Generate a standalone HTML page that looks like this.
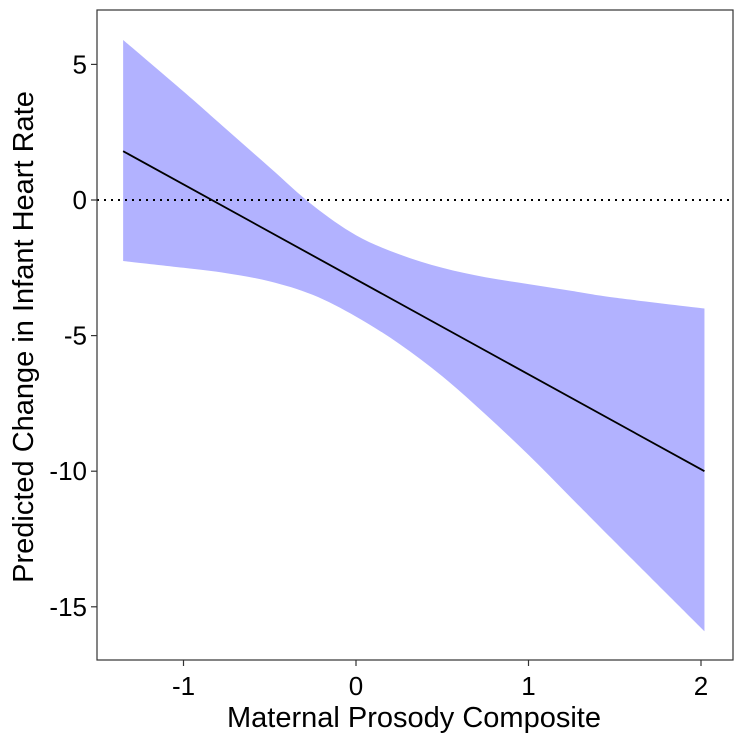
<!DOCTYPE html>
<html><head><meta charset="utf-8"><style>
html,body{margin:0;padding:0;background:#fff;}
svg{display:block;font-family:"Liberation Sans",Arial,sans-serif;}
</style></head><body>
<svg id="chart" width="744" height="744" viewBox="0 0 744 744">
<g id="plot"></g>
</svg>
<script>
const xCats = [-1.35, -1, -0.75, -0.5, -0.25, 0, 0.25, 0.5, 0.75, 1, 1.25, 1.5, 2.02];
const upperVals = [5.9, 4.0, 2.6, 1.2, -0.2, -1.3, -2.0, -2.5, -2.85, -3.1, -3.35, -3.6, -4.0];
const lowerVals = [-2.25, -2.5, -2.7, -3.0, -3.5, -4.3, -5.3, -6.5, -7.9, -9.4, -11.0, -12.6, -15.9];
const lineX = [-1.35, 2.02];
const lineY = [1.8, -10.0];
const xTicks = [-1, 0, 1, 2];
const yTicks = [5, 0, -5, -10, -15];
const refLine = [0];

const NS = "http://www.w3.org/2000/svg";
const g = document.getElementById('plot');
const px0 = 97, px1 = 733, py0 = 10, py1 = 660;
function xs(v){ return 356 + v * 172.5; }
function ys(v){ return 200 - v * 27.12; }
function mk(tag, attrs){ const e = document.createElementNS(NS, tag); for (const k in attrs) e.setAttribute(k, attrs[k]); g.appendChild(e); return e; }

function smoothPath(pts){
  let d = 'M' + pts[0][0] + ',' + pts[0][1];
  for (let i = 0; i < pts.length - 1; i++) {
    const p0 = pts[i-1] || pts[i], p1 = pts[i], p2 = pts[i+1], p3 = pts[i+2] || p2;
    const c1 = [p1[0] + (p2[0]-p0[0])/6, p1[1] + (p2[1]-p0[1])/6];
    const c2 = [p2[0] - (p3[0]-p1[0])/6, p2[1] - (p3[1]-p1[1])/6];
    d += ' C' + c1[0] + ',' + c1[1] + ' ' + c2[0] + ',' + c2[1] + ' ' + p2[0] + ',' + p2[1];
  }
  return d;
}
const up = xCats.map((x,i)=>[xs(x), ys(upperVals[i])]);
const lo = xCats.map((x,i)=>[xs(x), ys(lowerVals[i])]).reverse();
const loPath = smoothPath(lo);
let d = smoothPath(up) + ' L' + lo[0][0] + ',' + lo[0][1] + loPath.slice(loPath.indexOf(' C')) + ' Z';
const rib = mk('path', {d: d, fill: '#b2b2ff', stroke: 'none'});



refLine.forEach(v => {
  const l = mk('line', {x1: px0, x2: px1, y1: ys(v), y2: ys(v), stroke: '#000', 'stroke-width': 2, 'stroke-dasharray': '2,5'});
  
  
});

const ln = mk('line', {x1: xs(lineX[0]), y1: ys(lineY[0]), x2: xs(lineX[1]), y2: ys(lineY[1]), stroke: '#000', 'stroke-width': 1.8});



const fr = mk('rect', {x: px0, y: py0, width: px1-px0, height: py1-py0, fill: 'none', stroke: '#333', 'stroke-width': 1.2});



xTicks.forEach(v => {
  const t = mk('line', {x1: xs(v), x2: xs(v), y1: py1, y2: py1 + 6, stroke: '#333', 'stroke-width': 1.2});
  
  
  const tx = mk('text', {x: xs(v), y: py1 + 35, 'text-anchor': 'middle', 'font-size': 26, fill: '#000'});
  tx.textContent = v;
  
  
});
yTicks.forEach(v => {
  const t = mk('line', {x1: px0 - 6, x2: px0, y1: ys(v), y2: ys(v), stroke: '#333', 'stroke-width': 1.2});
  
  
  const tx = mk('text', {x: px0 - 10, y: ys(v) + 9, 'text-anchor': 'end', 'font-size': 26, fill: '#000'});
  tx.textContent = v;
  
  
});
const xt = mk('text', {x: 414, y: 727, 'text-anchor': 'middle', 'font-size': 29, fill: '#000'});
xt.textContent = 'Maternal Prosody Composite';


const yt = mk('text', {x: 0, y: 0, 'text-anchor': 'middle', 'font-size': 29, fill: '#000', transform: 'translate(33,337) rotate(-90)'});
yt.textContent = 'Predicted Change in Infant Heart Rate';


</script>
</body></html>
